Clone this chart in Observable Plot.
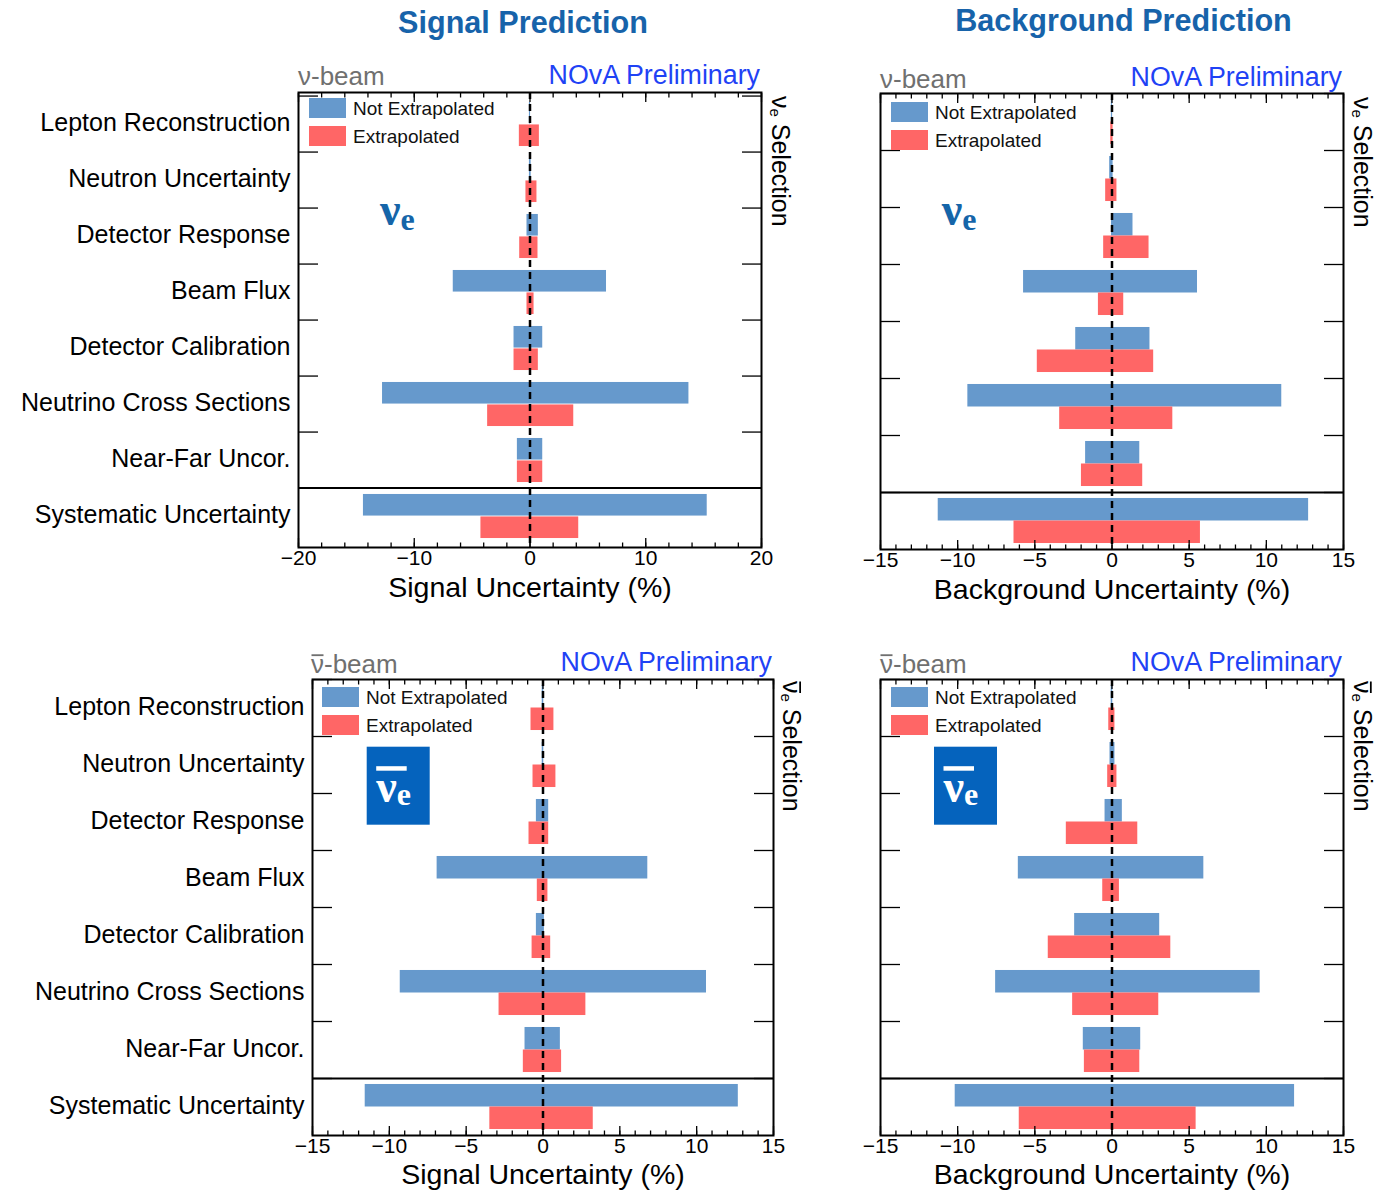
<!DOCTYPE html>
<html>
<head>
<meta charset="utf-8">
<script src="https://cdn.jsdelivr.net/npm/d3@7"></script>
<script src="https://cdn.jsdelivr.net/npm/@observablehq/plot@0.6"></script>
<style>
  body { margin: 0; background: #fff; }
  #page { position: relative; width: 1385px; height: 1191px; overflow: hidden; background: #fff;
          font-family: "Liberation Sans", Arial, Helvetica, sans-serif; }
  .panel { position: absolute; }
  #overlay { position: absolute; left: 0; top: 0; pointer-events: none; }
</style>
</head>
<body>
<div id="page"></div>
<script>
// ---------------- data ----------------
const categories = [
  "Lepton Reconstruction",
  "Neutron Uncertainty",
  "Detector Response",
  "Beam Flux",
  "Detector Calibration",
  "Neutrino Cross Sections",
  "Near-Far Uncor.",
  "Systematic Uncertainty"
];
const seriesNames = ["Not Extrapolated", "Extrapolated"];
const seriesColors = ["#6699cc", "#ff6666"];

// [low, high] uncertainty in %, one pair per category
const signalNuNotExtrap = [[-0.05, 0.05], [-0.05, 0.10], [-0.26, 0.72], [-6.63, 6.61], [-1.38, 1.10], [-12.74, 13.73], [-1.09, 1.10], [-14.39, 15.31]];
const signalNuExtrap    = [[-0.92, 0.81], [-0.35, 0.60], [-0.89, 0.69], [-0.26, 0.35], [-1.38, 0.72], [-3.66, 3.78], [-1.09, 1.10], [-4.24, 4.21]];
const bkgNuNotExtrap    = [[-0.04, 0.04], [-0.15, 0.07], [-0.03, 1.36], [-5.73, 5.54], [-2.35, 2.46], [-9.34, 11.00], [-1.71, 1.80], [-11.26, 12.74]];
const bkgNuExtrap       = [[-0.08, 0.07], [-0.41, 0.32], [-0.54, 2.40], [-0.88, 0.76], [-4.84, 2.70], [-3.39, 3.94], [-1.98, 1.99], [-6.35, 5.73]];
const signalNubarNotExtrap = [[-0.05, 0.05], [-0.05, 0.05], [-0.43, 0.37], [-6.89, 6.82], [-0.43, 0.09], [-9.29, 10.64], [-1.17, 1.13], [-11.57, 12.71]];
const signalNubarExtrap    = [[-0.78, 0.71], [-0.65, 0.84], [-0.91, 0.37], [-0.37, 0.32], [-0.71, 0.50], [-2.86, 2.79], [-1.28, 1.21], [-3.46, 3.27]];
const bkgNubarNotExtrap    = [[-0.05, 0.05], [-0.13, 0.19], [-0.45, 0.67], [-6.07, 5.95], [-2.42, 3.09], [-7.54, 9.60], [-1.86, 1.86], [-10.16, 11.83]];
const bkgNubarExtrap       = [[-0.21, 0.19], [-0.28, 0.32], [-2.96, 1.67], [-0.60, 0.48], [-4.13, 3.81], [-2.55, 3.03], [-1.79, 1.80], [-6.01, 5.45]];

// axis ticks
const ticksWide = [-20, -10, 0, 10, 20];
const minorWide = [-20, -18, -16, -14, -12, -10, -8, -6, -4, -2, 0, 2, 4, 6, 8, 10, 12, 14, 16, 18, 20];
const ticksNarrow = [-15, -10, -5, 0, 5, 10, 15];
const minorNarrow = [-15, -14, -13, -12, -11, -10, -9, -8, -7, -6, -5, -4, -3, -2, -1, 0, 1, 2, 3, 4, 5, 6, 7, 8, 9, 10, 11, 12, 13, 14, 15];

// ---------------- panels ----------------
const FONT = "'Liberation Sans', Arial, Helvetica, sans-serif";
const page = document.getElementById("page");

function panel(cfg) {
  const {left, top, width, height, ml, mr, mt, mb, domain, major, minor, notExt, ext, showY, xTitle, titleDy, tickPad} = cfg;
  const fh = height - mt - mb;
  const bw = fh / categories.length;
  const pad = bw * 0.105;
  const rows = arr => categories.map((c, i) => ({category: c, low: arr[i][0], high: arr[i][1]}));
  const noText = () => "";
  const marks = [
    Plot.barX(rows(notExt), {x1: "low", x2: "high", y: "category", fill: seriesColors[0], insetTop: pad, insetBottom: bw / 2}),
    Plot.barX(rows(ext), {x1: "low", x2: "high", y: "category", fill: seriesColors[1], insetTop: bw / 2, insetBottom: pad}),
    Plot.ruleX([0], {stroke: "black", strokeWidth: 2.5, strokeDasharray: "7,5"}),
    Plot.ruleY([categories[categories.length - 1]], {dy: -bw / 2, stroke: "black", strokeWidth: 2}),
    Plot.axisY({anchor: "left", tickSize: -20, tickFormat: noText, label: null, dy: -bw / 2, strokeWidth: 1.3}),
    Plot.axisY({anchor: "right", tickSize: -20, tickFormat: noText, label: null, dy: -bw / 2, strokeWidth: 1.3}),
    Plot.axisX({anchor: "bottom", ticks: major, tickSize: -9, tickFormat: noText, label: null, strokeWidth: 1.3}),
    Plot.axisX({anchor: "bottom", ticks: minor, tickSize: -4.5, tickFormat: noText, label: null, strokeWidth: 1.3}),
    Plot.axisX({anchor: "top", ticks: major, tickSize: -9, tickFormat: noText, label: null, strokeWidth: 1.3}),
    Plot.axisX({anchor: "top", ticks: minor, tickSize: -4.5, tickFormat: noText, label: null, strokeWidth: 1.3}),
    Plot.axisX({anchor: "bottom", ticks: major, tickSize: 0, tickPadding: tickPad, fontSize: 21, label: null}),
    Plot.text([xTitle], {text: d => d, frameAnchor: "bottom", dy: titleDy, fontSize: 28.5, lineAnchor: "middle", fill: "black"}),
    Plot.frame({stroke: "black", strokeWidth: 2})
  ];
  if (showY) marks.push(Plot.axisY({anchor: "left", tickSize: 0, tickPadding: 8, fontSize: 25, label: null, dy: -1.5}));
  const svg = Plot.plot({
    width, height,
    marginLeft: ml, marginRight: mr, marginTop: mt, marginBottom: mb,
    style: {fontFamily: FONT, fontSize: "22px", background: "transparent", color: "black", overflow: "visible"},
    x: {domain},
    y: {type: "band", domain: categories, padding: 0},
    marks
  });
  const wrap = document.createElement("div");
  wrap.className = "panel";
  wrap.style.left = left + "px";
  wrap.style.top = top + "px";
  wrap.appendChild(svg);
  page.appendChild(wrap);
}

panel({left: 0, top: 60, width: 790, height: 560, ml: 298, mr: 29, mt: 32, mb: 73,
       domain: [-20, 20], major: ticksWide, minor: minorWide, notExt: signalNuNotExtrap, ext: signalNuExtrap,
       showY: true, xTitle: "Signal Uncertainty (%)", titleDy: 40, tickPad: 3});
panel({left: 800, top: 60, width: 570, height: 560, ml: 80, mr: 27, mt: 33, mb: 71,
       domain: [-15, 15], major: ticksNarrow, minor: minorNarrow, notExt: bkgNuNotExtrap, ext: bkgNuExtrap,
       showY: false, xTitle: "Background Uncertainty (%)", titleDy: 40, tickPad: 3});
panel({left: 0, top: 640, width: 790, height: 551, ml: 312, mr: 17, mt: 39, mb: 56,
       domain: [-15, 15], major: ticksNarrow, minor: minorNarrow, notExt: signalNubarNotExtrap, ext: signalNubarExtrap,
       showY: true, xTitle: "Signal Uncertainty (%)", titleDy: 39.5, tickPad: 2.5});
panel({left: 800, top: 640, width: 570, height: 551, ml: 80, mr: 27, mt: 39, mb: 56,
       domain: [-15, 15], major: ticksNarrow, minor: minorNarrow, notExt: bkgNubarNotExtrap, ext: bkgNubarExtrap,
       showY: false, xTitle: "Background Uncertainty (%)", titleDy: 39.5, tickPad: 2.5});

// ---------------- annotations ----------------
const NU = "\u03BD";
const svgO = d3.select(page).append("svg").attr("id", "overlay")
  .attr("width", 1385).attr("height", 1191).attr("font-family", FONT);

// column titles
[["Signal Prediction", 523, 33], ["Background Prediction", 1123.5, 31]].forEach(([t, x, y]) =>
  svgO.append("text").attr("x", x).attr("y", y).attr("text-anchor", "middle")
    .attr("font-size", 30.6).attr("font-weight", "bold").attr("fill", "#1763aa").text(t));

const panelsInfo = [
  {fx: 298, fr: 761, bar: false, beamY: 85, novaY: 84, legTop: 98, selX: 771.7, selY: 96,
   badge: {type: "plain", x: 380, y: 225}},
  {fx: 880, fr: 1343, bar: false, beamY: 88, novaY: 86, legTop: 102, selX: 1353.7, selY: 97,
   badge: {type: "plain", x: 941.7, y: 225}},
  {fx: 311, fr: 773, bar: true, beamY: 673, novaY: 671, legTop: 687, selX: 783, selY: 681,
   badge: {type: "box", x: 366.7, y: 746.7}},
  {fx: 880, fr: 1343, bar: true, beamY: 673, novaY: 671, legTop: 687, selX: 1353.7, selY: 681,
   badge: {type: "box", x: 934, y: 746.7}}
];

// writes "ν" (optionally with an over-bar) + rest into group g at local (0,0) baseline
function nuText(g, size, bar, rest, fill, subE) {
  const t = g.append("text").attr("font-size", size).attr("fill", fill);
  const nu = t.append("tspan").text(NU);
  if (subE) {
    t.append("tspan").attr("font-size", size * 0.6).attr("dy", 2).text("e");
    t.append("tspan").attr("dy", -2).text(rest);
  } else {
    t.append("tspan").text(rest);
  }
  if (bar) {
    const w = t.node().getSubStringLength(0, 1);
    g.append("rect").attr("x", 0.5).attr("y", -size * 0.72).attr("width", w - 1).attr("height", size * 0.07).attr("fill", fill);
  }
}

panelsInfo.forEach(p => {
  // header
  nuText(svgO.append("g").attr("transform", `translate(${p.fx},${p.beamY})`), 26, p.bar, "-beam", "#707070", false);
  svgO.append("text").attr("x", p.fr - 1).attr("y", p.novaY).attr("text-anchor", "end")
    .attr("font-size", 26.8).attr("fill", "#1f42f5").text("NOvA Preliminary");
  // legend
  seriesNames.forEach((name, k) => {
    const y = p.legTop + k * 28;
    svgO.append("rect").attr("x", p.fx + 11).attr("y", y).attr("width", 37).attr("height", 20).attr("fill", seriesColors[k]);
    svgO.append("text").attr("x", p.fx + 55).attr("y", y + 10).attr("dy", "0.35em")
      .attr("font-size", 19).attr("fill", "#111").text(name);
  });
  // rotated selection label
  nuText(svgO.append("g").attr("transform", `translate(${p.selX},${p.selY}) rotate(90)`), 25, p.bar, " Selection", "black", true);
  // badge
  const b = p.badge;
  if (b.type === "plain") {
    const bt = svgO.append("text").attr("x", b.x).attr("y", b.y).attr("font-family", "'Liberation Serif', 'Times New Roman', serif")
      .attr("font-weight", "bold").attr("fill", "#1565a9");
    bt.append("tspan").attr("font-size", 46).text(NU);
    bt.append("tspan").attr("font-size", 32).attr("dy", 5).text("e");
  } else {
    svgO.append("rect").attr("x", b.x).attr("y", b.y).attr("width", 63).attr("height", 78).attr("fill", "#0563bd");
    svgO.append("rect").attr("x", b.x + 9.5).attr("y", b.y + 19.5).attr("width", 30.5).attr("height", 4.5).attr("fill", "white");
    const bt = svgO.append("text").attr("x", b.x + 9.5).attr("y", b.y + 55).attr("font-family", "'Liberation Serif', 'Times New Roman', serif")
      .attr("font-weight", "bold").attr("fill", "white");
    bt.append("tspan").attr("font-size", 46).text(NU);
    bt.append("tspan").attr("font-size", 32).attr("dy", 3).text("e");
  }
});
</script>
</body>
</html>
